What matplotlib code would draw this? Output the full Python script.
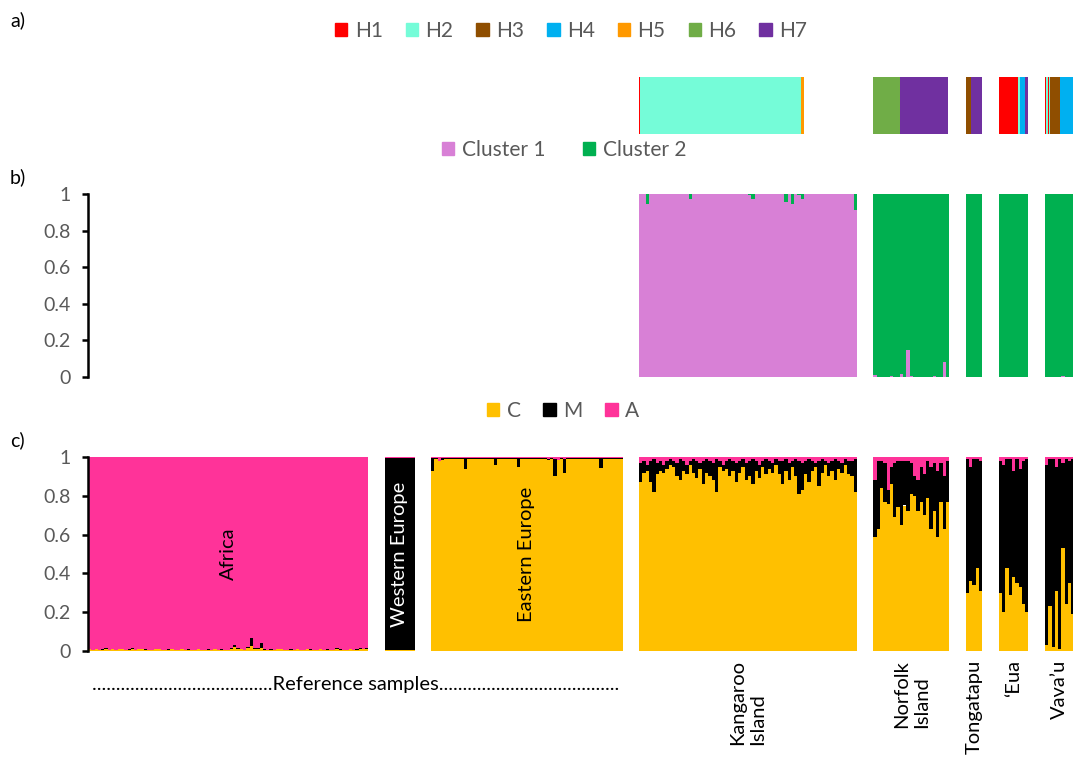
import matplotlib
matplotlib.use("Agg")
import matplotlib.pyplot as plt
from matplotlib.patches import Patch

plt.rcParams['font.family'] = ['Lato', 'DejaVu Sans']

# ---------------- data ----------------
groups = ["Africa", "Western Europe", "Eastern Europe", "Kangaroo Island",
          "Norfolk Island", "Tongatapu", "\u2018Eua", "Vava\u2019u"]
group_labels = ["Africa", "Western Europe", "Eastern Europe", "Kangaroo\nIsland",
                "Norfolk\nIsland", "Tongatapu", "\u2018Eua", "Vava\u2019u"]

# panel c: ancestry proportions (C, M, A = remainder) per individual
africa_C = [0.008, 0.006, 0.010, 0.005, 0.007, 0.012, 0.006, 0.008, 0.005, 0.010,
            0.009, 0.006, 0.007, 0.011, 0.006, 0.008, 0.010, 0.007, 0.005, 0.006,
            0.009, 0.008, 0.006, 0.005, 0.007, 0.010, 0.006, 0.005, 0.008, 0.006,
            0.007, 0.005, 0.006, 0.008, 0.005, 0.006, 0.007, 0.005, 0.008, 0.006,
            0.007, 0.005, 0.006, 0.012, 0.020, 0.010, 0.008, 0.006, 0.015, 0.025,
            0.012, 0.010, 0.015, 0.006, 0.005, 0.007, 0.006, 0.010, 0.008, 0.006,
            0.005, 0.007, 0.006, 0.008, 0.005, 0.006, 0.009, 0.007, 0.005, 0.006,
            0.008, 0.006, 0.007, 0.005, 0.006, 0.010, 0.007, 0.005, 0.006, 0.008,
            0.006, 0.007, 0.012, 0.009, 0.010]
africa_M = [0.002, 0.001, 0.002, 0.001, 0.002, 0.003, 0.001, 0.002, 0.001, 0.002,
            0.002, 0.001, 0.001, 0.003, 0.001, 0.002, 0.002, 0.001, 0.001, 0.001,
            0.002, 0.002, 0.001, 0.001, 0.002, 0.002, 0.001, 0.001, 0.002, 0.001,
            0.001, 0.001, 0.001, 0.002, 0.001, 0.001, 0.002, 0.001, 0.002, 0.001,
            0.001, 0.001, 0.001, 0.004, 0.012, 0.003, 0.002, 0.001, 0.008, 0.040,
            0.004, 0.003, 0.025, 0.002, 0.001, 0.001, 0.001, 0.002, 0.002, 0.001,
            0.001, 0.001, 0.001, 0.002, 0.001, 0.001, 0.002, 0.001, 0.001, 0.001,
            0.002, 0.001, 0.001, 0.001, 0.001, 0.008, 0.002, 0.001, 0.001, 0.002,
            0.001, 0.001, 0.004, 0.002, 0.003]

weu_C = [0.004, 0.003, 0.004, 0.003, 0.004, 0.003, 0.004, 0.003, 0.004]
weu_M = [0.990, 0.992, 0.991, 0.993, 0.990, 0.992, 0.991, 0.992, 0.990]

eeu_C = [0.930, 0.990, 0.992, 0.985, 0.990, 0.991, 0.988, 0.992, 0.990, 0.989,
         0.940, 0.991, 0.990, 0.988, 0.992, 0.990, 0.989, 0.991, 0.990, 0.960,
         0.990, 0.992, 0.989, 0.990, 0.991, 0.988, 0.950, 0.990, 0.991, 0.989,
         0.992, 0.990, 0.989, 0.988, 0.991, 0.985, 0.990, 0.900, 0.985, 0.988,
         0.920, 0.990, 0.989, 0.991, 0.990, 0.988, 0.992, 0.990, 0.989, 0.991,
         0.990, 0.945, 0.990, 0.991, 0.989, 0.990, 0.992, 0.990]
eeu_A = [0.004, 0.003, 0.020, 0.004, 0.003, 0.004, 0.005, 0.003, 0.004, 0.003,
         0.006, 0.004, 0.003, 0.005, 0.004, 0.003, 0.004, 0.005, 0.003, 0.004,
         0.004, 0.003, 0.005, 0.004, 0.003, 0.006, 0.004, 0.003, 0.004, 0.005,
         0.003, 0.004, 0.003, 0.005, 0.004, 0.012, 0.004, 0.008, 0.015, 0.006,
         0.010, 0.004, 0.005, 0.003, 0.004, 0.006, 0.003, 0.004, 0.005, 0.003,
         0.004, 0.005, 0.003, 0.004, 0.003, 0.005, 0.004, 0.003]

ki_C = [0.87, 0.92, 0.93, 0.87, 0.82, 0.91, 0.93, 0.92, 0.94, 0.96,
        0.95, 0.90, 0.88, 0.93, 0.91, 0.96, 0.92, 0.89, 0.94, 0.86,
        0.92, 0.90, 0.88, 0.82, 0.95, 0.93, 0.94, 0.90, 0.93, 0.87,
        0.92, 0.95, 0.88, 0.90, 0.86, 0.93, 0.89, 0.95, 0.91, 0.94,
        0.92, 0.96, 0.91, 0.86, 0.93, 0.88, 0.95, 0.90, 0.81, 0.83,
        0.91, 0.87, 0.93, 0.95, 0.85, 0.92, 0.96, 0.90, 0.93, 0.88,
        0.94, 0.92, 0.96, 0.91, 0.90, 0.82]
ki_A = [0.03, 0.02, 0.04, 0.02, 0.01, 0.03, 0.02, 0.04, 0.02, 0.01,
        0.02, 0.03, 0.01, 0.02, 0.04, 0.02, 0.01, 0.02, 0.03, 0.02,
        0.01, 0.02, 0.03, 0.01, 0.02, 0.04, 0.02, 0.01, 0.02, 0.03,
        0.02, 0.01, 0.03, 0.02, 0.01, 0.02, 0.04, 0.02, 0.01, 0.02,
        0.03, 0.01, 0.02, 0.02, 0.01, 0.03, 0.02, 0.01, 0.02, 0.03,
        0.02, 0.01, 0.02, 0.03, 0.02, 0.01, 0.02, 0.03, 0.02, 0.01,
        0.02, 0.03, 0.01, 0.02, 0.02, 0.01]

ni_C = [0.59, 0.63, 0.84, 0.77, 0.76, 0.86, 0.69, 0.74, 0.65, 0.75,
        0.72, 0.81, 0.80, 0.72, 0.77, 0.70, 0.79, 0.63, 0.72, 0.59,
        0.77, 0.63, 0.77]
ni_A = [0.12, 0.02, 0.02, 0.03, 0.17, 0.05, 0.03, 0.02, 0.02, 0.02,
        0.02, 0.03, 0.10, 0.12, 0.05, 0.09, 0.02, 0.05, 0.03, 0.07,
        0.03, 0.10, 0.02]

tg_C = [0.30, 0.36, 0.34, 0.43, 0.31]
tg_A = [0.01, 0.05, 0.01, 0.01, 0.02]

eua_C = [0.30, 0.20, 0.43, 0.29, 0.38, 0.35, 0.33, 0.24, 0.20]
eua_A = [0.02, 0.04, 0.01, 0.01, 0.07, 0.01, 0.06, 0.02, 0.01]

vv_C = [0.03, 0.23, 0.02, 0.31, 0.01, 0.53, 0.24, 0.35, 0.19]
vv_A = [0.04, 0.01, 0.01, 0.05, 0.01, 0.03, 0.01, 0.02, 0.01]

# panel b: Cluster 1 membership for the island samples
ki_cl1 = [1.0, 1.0, 0.945, 1.0, 1.0, 1.0, 1.0, 1.0, 1.0, 1.0,
          1.0, 1.0, 1.0, 1.0, 1.0, 0.97, 1.0, 1.0, 1.0, 1.0,
          1.0, 1.0, 1.0, 1.0, 1.0, 1.0, 1.0, 1.0, 1.0, 1.0,
          1.0, 1.0, 1.0, 0.995, 0.97, 1.0, 1.0, 1.0, 1.0, 1.0,
          1.0, 1.0, 1.0, 1.0, 0.955, 1.0, 0.945, 1.0, 0.995, 0.97,
          1.0, 1.0, 1.0, 1.0, 1.0, 1.0, 1.0, 1.0, 1.0, 1.0,
          1.0, 1.0, 1.0, 1.0, 1.0, 0.915]
ni_cl1 = [0.01, 0.0, 0.0, 0.0, 0.0, 0.004, 0.0, 0.0, 0.015, 0.0,
          0.15, 0.003, 0.0, 0.0, 0.0, 0.0, 0.0, 0.0, 0.005, 0.0,
          0.0, 0.08, 0.0]
tg_cl1 = [0.0, 0.0, 0.0, 0.0, 0.0]
eua_cl1 = [0.0, 0.0, 0.0, 0.0, 0.0, 0.0, 0.0, 0.0, 0.0]
vv_cl1 = [0.0, 0.0, 0.0, 0.0, 0.0, 0.005, 0.0, 0.0, 0.0]

# panel a: mtDNA haplotype runs per island population
haplotypes = ["H1", "H2", "H3", "H4", "H5", "H6", "H7"]
ki_hap = [("H1", 1), ("H2", 116), ("H5", 2)]
ni_hap = [("H6", 19), ("H7", 35)]
tg_hap = [("H3", 4), ("H7", 8)]
eua_hap = [("H1", 14), ("H2", 1), ("H4", 4), ("H7", 2)]
vv_hap = [("H1", 1), ("H2", 1), ("H1", 1), ("H2", 1), ("H3", 7), ("H4", 10)]

# ---------------- style ----------------
hap_colors = {"H1": "#FF0000", "H2": "#75FCD8", "H3": "#8F4E00", "H4": "#00B0F0",
              "H5": "#FF9900", "H6": "#70AD47", "H7": "#7030A0"}
c_col, m_col, a_col = "#FFC000", "#000000", "#FF3399"
cl1_col, cl2_col = "#D880D6", "#00B050"
grey_txt = "#595959"
GAP = 5
HAP_W = 0.42

W, H = 1073, 758
fig = plt.figure(figsize=(W / 100, H / 100), dpi=100)


def fx(px):
    return px / W


def fy(py):
    return 1 - py / H


XMAX = 298.5
left_px = 88

# sample columns laid out group after group with an empty gap between groups
all_C = [africa_C, weu_C, eeu_C, ki_C, ni_C, tg_C, eua_C, vv_C]
all_M = [africa_M, weu_M, None, None, None, None, None, None]
all_A = [None, None, eeu_A, ki_A, ni_A, tg_A, eua_A, vv_A]

starts = []
pos = 0
for cvals in all_C:
    starts.append(pos)
    pos += len(cvals) + GAP


def make_axes(top_px, bottom_px):
    ax = fig.add_axes([fx(left_px), fy(bottom_px), 1 - fx(left_px),
                       (bottom_px - top_px) / H])
    ax.set_xlim(0, XMAX)
    ax.set_ylim(0, 1)
    for s in ("top", "right", "bottom"):
        ax.spines[s].set_visible(False)
    ax.set_xticks([])
    return ax


def style_y(ax):
    ax.spines["left"].set_linewidth(1.8)
    ax.set_yticks([0, 0.2, 0.4, 0.6, 0.8, 1])
    ax.set_yticklabels(["0", "0.2", "0.4", "0.6", "0.8", "1"])
    ax.tick_params(axis="y", direction="out", length=4.5, width=1.8,
                   pad=8, labelsize=14, labelcolor=grey_txt)


# ---- panel c ----
ax_c = make_axes(457, 651)
style_y(ax_c)
for gi, cvals in enumerate(all_C):
    n = len(cvals)
    xs = [starts[gi] + i for i in range(n)]
    if all_M[gi] is not None:
        mvals = all_M[gi]
        avals = [1 - c - m for c, m in zip(cvals, mvals)]
    else:
        avals = all_A[gi]
        mvals = [1 - c - a for c, a in zip(cvals, avals)]
    ax_c.bar(xs, cvals, width=1, align="edge", color=c_col, linewidth=0)
    ax_c.bar(xs, mvals, width=1, align="edge", bottom=cvals, color=m_col, linewidth=0)
    ax_c.bar(xs, avals, width=1, align="edge",
             bottom=[c + m for c, m in zip(cvals, mvals)], color=a_col, linewidth=0)

# population names written inside the reference bars
ax_c.text(starts[0] + len(africa_C) / 2, 0.5, "Africa", rotation=90,
          ha="center", va="center", fontsize=14.5, color="black")
ax_c.text(starts[1] + len(weu_C) / 2, 0.5, "Western Europe", rotation=90,
          ha="center", va="center", fontsize=14.5, color="white")
ax_c.text(starts[2] + len(eeu_C) / 2, 0.5, "Eastern Europe", rotation=90,
          ha="center", va="center", fontsize=14.5, color="black")

# labels under the island groups
for gi in range(3, 8):
    xc = starts[gi] + len(all_C[gi]) / 2
    ax_c.text(xc, -0.045, group_labels[gi], rotation=90, ha="center", va="top",
              multialignment="left", fontsize=14.5, color="black")

dots = "." * 38
ax_c.text((starts[0] + starts[2] + len(eeu_C)) / 2, -0.175,
          dots + "Reference samples" + dots, ha="center", va="center",
          fontsize=14.5, color="black")

# ---- panel b ----
ax_b = make_axes(194, 377)
style_y(ax_b)
cl_sets = [ki_cl1, ni_cl1, tg_cl1, eua_cl1, vv_cl1]
for k, cl in enumerate(cl_sets):
    gi = 3 + k
    xs = [starts[gi] + i for i in range(len(cl))]
    ax_b.bar(xs, cl, width=1, align="edge", color=cl1_col, linewidth=0)
    ax_b.bar(xs, [1 - v for v in cl], width=1, align="edge", bottom=cl,
             color=cl2_col, linewidth=0)

# ---- panel a ----
ax_a = make_axes(77, 134)
ax_a.spines["left"].set_visible(False)
ax_a.set_yticks([])
hap_sets = [ki_hap, ni_hap, tg_hap, eua_hap, vv_hap]
for k, runs in enumerate(hap_sets):
    x0 = starts[3 + k]
    for hap, cnt in runs:
        ax_a.bar(x0, 1, width=cnt * HAP_W, align="edge", color=hap_colors[hap],
                 linewidth=0)
        x0 += cnt * HAP_W

# ---- legends ----
leg_kw = dict(frameon=False, handlelength=0.6, handleheight=0.6,
              handletextpad=0.35, fontsize=15, labelcolor=grey_txt,
              borderaxespad=0, borderpad=0)
fig.legend(handles=[Patch(color=hap_colors[h], label=h) for h in haplotypes],
           loc="center", bbox_to_anchor=(fx(571), fy(31)), ncol=7,
           columnspacing=1.1, **leg_kw)
fig.legend(handles=[Patch(color=cl1_col, label="Cluster 1"),
                    Patch(color=cl2_col, label="Cluster 2")],
           loc="center", bbox_to_anchor=(fx(564), fy(150)), ncol=2,
           columnspacing=1.8, **leg_kw)
fig.legend(handles=[Patch(color=c_col, label="C"), Patch(color=m_col, label="M"),
                    Patch(color=a_col, label="A")],
           loc="center", bbox_to_anchor=(fx(563), fy(411)), ncol=3,
           columnspacing=1.1, **leg_kw)

# panel letters
for lbl, py in (("a)", 20), ("b)", 177), ("c)", 440)):
    fig.text(fx(10), fy(py), lbl, ha="left", va="center", fontsize=14,
             color="black")

fig.savefig("out.png", dpi=100)
